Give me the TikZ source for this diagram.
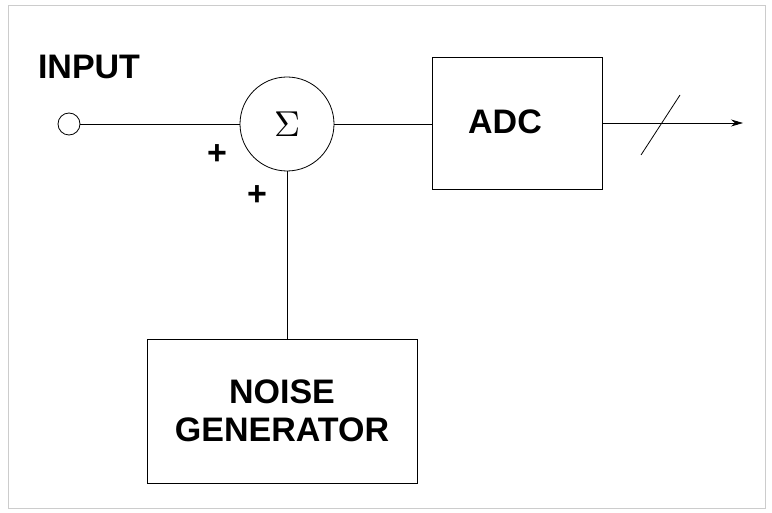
\documentclass[tikz,border=0pt]{standalone}
\usepackage{fontspec}
\usepackage{graphicx}
\setmainfont{Liberation Sans}
\usetikzlibrary{arrows.meta}
\begin{document}
\begin{tikzpicture}[x=1pt,y=-1pt,
  lbl/.style={font=\bfseries\fontsize{34}{40}\selectfont},
  blk/.style={draw,line width=0.8pt},
  wire/.style={line width=0.8pt}]
\useasboundingbox (0,0) rectangle (772,513);
\draw[gray!40,line width=0.8pt] (8,5) rectangle (765,508);
\node[draw,circle,minimum size=22pt,inner sep=0,line width=0.8pt] (in) at (69,124) {};
\node[lbl] (inl) at (89,67) {INPUT};
\node[draw,circle,minimum size=94pt,inner sep=0,line width=0.8pt] (sum) at (287,124) {\scalebox{3.6}{$\Sigma$}};
\node[blk,minimum width=170pt,minimum height=132pt,inner sep=0] (adc) at (517,123) {};
\node[lbl] (adct) at (505,122) {ADC};
\node[blk,minimum width=270pt,minimum height=144pt,inner sep=0,lbl,align=center] (noise) at (282,411) {NOISE\\[-2pt]GENERATOR};
\coordinate (out) at (743,123);
\coordinate (s1) at (641,155);
\coordinate (s2) at (680,95);
\node[lbl] (p1) at (217,155) {+};
\node[lbl] (p2) at (257,196) {+};
\draw[wire] (in) -- (sum);
\draw[wire] (sum) -- (adc.west|-sum);
\draw[wire,-{Stealth[length=12pt,width=7pt]}] (adc.east) -- (out);
\draw[wire] (s1) -- (s2);
\draw[wire] (noise.north-|sum) -- (sum.south);
\end{tikzpicture}
\end{document}
